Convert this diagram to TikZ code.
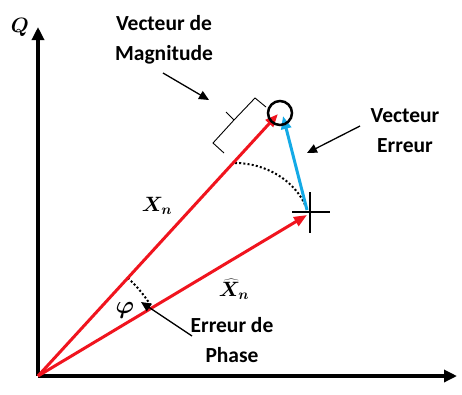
\documentclass[tikz,border=0pt]{standalone}
\usepackage{fontspec}
\usepackage{bm}
\setsansfont{Carlito}
\usetikzlibrary{arrows.meta,calc}
\definecolor{vred}{RGB}{240,20,30}
\definecolor{vblue}{RGB}{20,170,230}
\begin{document}
\begin{tikzpicture}[x=1pt,y=-1pt,
  axis/.style={line width=3.2pt,-{Triangle[length=13pt,width=12pt]}},
  redvec/.style={vred,line width=3pt,-{Triangle[length=13pt,width=10pt]}},
  bluevec/.style={vblue,line width=3pt,-{Triangle[length=13pt,width=10pt]}},
  pointer/.style={line width=1.3pt,-{Triangle[length=10pt,width=9pt]}},
  lbl/.style={font=\sffamily\bfseries\fontsize{21.5}{30}\selectfont,align=center,inner sep=0pt},
  mlbl/.style={font=\fontsize{21}{24}\selectfont,inner sep=0pt},
  dots/.style={line width=2pt,dash pattern=on 2pt off 2.2pt}]
\useasboundingbox (0,0) rectangle (462,394);
\coordinate (O) at (38,376);
\coordinate (Ytip) at (38,27);
\coordinate (Xtip) at (457,376);
\coordinate (XnTip) at (278,114);
\coordinate (XhTip) at (307,215);
\coordinate (Estart) at (307,210);
\coordinate (EEnd) at (283,116);
% axes
\draw[axis] (O) -- (Ytip);
\draw[axis] (O) -- (Xtip);
% dotted arcs
\draw[dots] ($(O)+(-47.5:133)$) arc[start angle=-47.5,end angle=-31,radius=133];
\draw[dots] (235,163) .. controls (265,163) and (295,180) .. (306,207);
% vectors
\draw[redvec] (O) -- (XnTip);
\draw[redvec] (O) -- (XhTip);
\draw[bluevec] (Estart) -- (EEnd);
% magnitude circle
\node[draw,circle,line width=2.5pt,minimum size=24pt,inner sep=0pt] (mag) at (280,113) {};
% cross
\draw[line width=2pt] (292,212) -- (330,212) (310,192) -- (310,233);
% bracket
\draw[line width=0.9pt] (224,153) -- (213,143) -- (234,120) -- (255,98) -- (266,107)
  (234,120) -- (226,112);
% labels
\node[mlbl] (Q) at (20,27) {$\bm{Q}$};
\node[lbl] (tmag) at (164,40) {Vecteur de\\Magnitude};
\node[lbl] (terr) at (405,131) {Vecteur\\Erreur};
\node[lbl] (tph) at (232,340) {Erreur de\\Phase};
\node[mlbl] (xn) at (157,206) {$\bm{X}_{\bm{n}}$};
\node[mlbl] (xh) at (234,289) {$\widehat{\bm{X}}_{\bm{n}}$};
\node[mlbl,font=\fontsize{25}{28}\selectfont] (phi) at (125,310) {$\bm{\varphi}$};
% pointers
\coordinate (p1s) at (163,73);
\coordinate (p1e) at (209,100);
\coordinate (p2s) at (360,126);
\coordinate (p2e) at (307,153);
\coordinate (p3s) at (192,336);
\coordinate (p3e) at (141,302);
\draw[pointer] (p1s) -- (p1e);
\draw[pointer] (p2s) -- (p2e);
\draw[pointer] (p3s) -- (p3e);
\end{tikzpicture}
\end{document}
